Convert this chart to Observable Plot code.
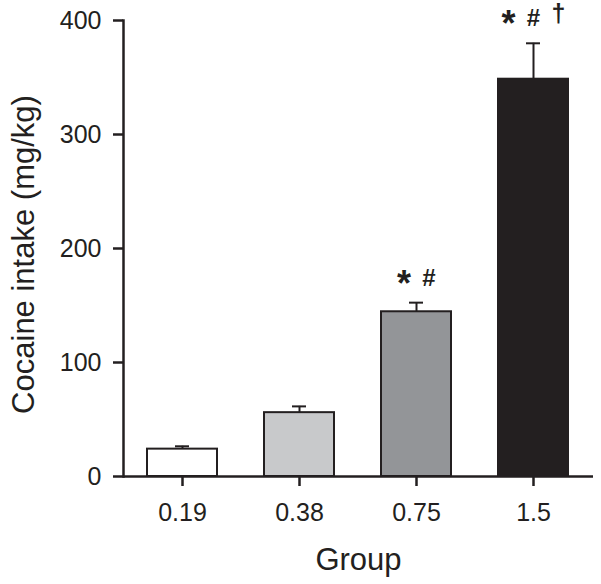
<!DOCTYPE html>
<html>
<head>
<meta charset="utf-8">
<script src="https://cdn.jsdelivr.net/npm/d3@7"></script>
<script src="https://cdn.jsdelivr.net/npm/@observablehq/plot@0.6"></script>
<style>
  html, body { margin: 0; padding: 0; background: #fff; }
</style>
</head>
<body>
<div id="chart"></div>
<script>
const groups = ["0.19", "0.38", "0.75", "1.5"];
const means = [24, 56, 144.5, 348.5];
const errors = [2.5, 5.5, 8, 31.5];
const fills = ["#ffffff", "#c8c9cb", "#939598", "#231f20"];
const sigMarks = [[], [], ["*", "#"], ["*", "#", "\u2020"]];
const yTicks = [0, 100, 200, 300, 400];
const xTitle = "Group";
const yTitle = "Cocaine intake (mg/kg)";

const data = groups.map((g, i) => ({group: g, mean: means[i], err: errors[i], top: means[i] + errors[i]}));

const ink = "#231f20";
const symStyle = {
  "*": {size: 36, dy: -7},
  "#": {size: 24, dy: -17},
  "\u2020": {size: 25, dy: -21}
};

const annot = [];
sigMarks.forEach((syms, i) => {
  const n = syms.length;
  syms.forEach((s, k) => {
    annot.push(Plot.text([data[i]], {
      x: "group", y: "top", text: () => s,
      dx: (k - (n - 1) / 2) * 25, dy: symStyle[s].dy,
      fontSize: symStyle[s].size, fontWeight: "bold", lineAnchor: "bottom", fill: ink
    }));
  });
});

const chart = Plot.plot({
  width: 601,
  height: 584,
  marginLeft: 123,
  marginRight: 8,
  marginTop: 20,
  marginBottom: 108,
  x: {domain: groups, paddingInner: 0.4, paddingOuter: 0.2, label: null},
  y: {domain: [0, 400], label: null},
  color: {domain: groups, range: fills},
  style: {fontFamily: "'Liberation Sans', Arial, sans-serif", color: ink, background: "#fff", overflow: "visible"},
  marks: [
    Plot.ruleX(data, {x: "group", y1: "mean", y2: "top", stroke: ink, strokeWidth: 2}),
    Plot.tickY(data, {x: "group", y: "top", stroke: ink, strokeWidth: 2, insetLeft: 28, insetRight: 28}),
    Plot.barY(data, {x: "group", y: "mean", fill: "group", stroke: ink, strokeWidth: 2}),
    Plot.ruleY([0], {stroke: ink, strokeWidth: 2.5}),
    Plot.frame({anchor: "left", stroke: ink, strokeWidth: 2.5}),
    Plot.axisY({ticks: yTicks, tickSize: 10, tickPadding: 12, fontSize: 25, strokeWidth: 2.5, label: null}),
    Plot.axisX({tickSize: 10, tickPadding: 17, fontSize: 25, strokeWidth: 2.5, label: null}),
    ...annot,
    Plot.text([xTitle], {frameAnchor: "bottom", lineAnchor: "bottom", dy: 93, fontSize: 31, fill: ink, text: d => d}),
    Plot.text([yTitle], {frameAnchor: "left", textAnchor: "middle", lineAnchor: "bottom", rotate: -90, dx: -90, dy: 6, fontSize: 31, fill: ink, text: d => d})
  ]
});
document.getElementById("chart").appendChild(chart);
</script>
</body>
</html>
